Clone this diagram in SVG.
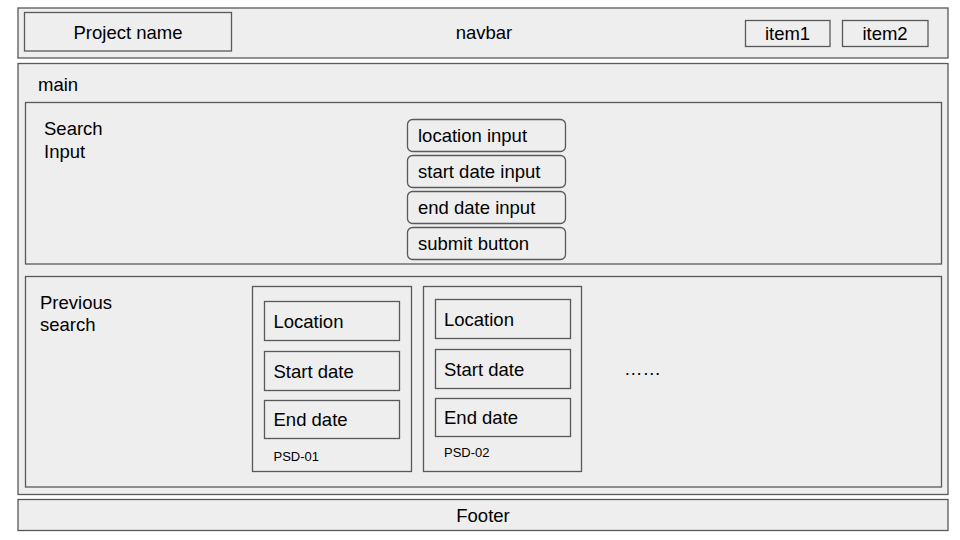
<svg xmlns="http://www.w3.org/2000/svg" width="960" height="540" viewBox="0 0 960 540">
<style>
.box{fill:#eeeeee;stroke:#595959;stroke-width:1.3}
.t{font-family:"Liberation Sans",Arial,sans-serif;font-size:18.5px;fill:#000}
.s{font-family:"Liberation Sans",Arial,sans-serif;font-size:13px;fill:#000}
.c{text-anchor:middle}
</style>
<rect width="960" height="540" fill="#ffffff"/>
<g id="navbar">
<rect class="box" x="18" y="8" width="930" height="50"/>
<text class="t c" x="484" y="39">navbar</text>
</g>
<g id="project-name">
<rect class="box" x="24.5" y="12.5" width="207" height="38.5"/>
<text class="t c" x="128" y="39">Project name</text>
</g>
<g id="item1">
<rect class="box" x="745.5" y="20.5" width="84.5" height="26"/>
<text class="t c" x="787.5" y="40">item1</text>
</g>
<g id="item2">
<rect class="box" x="842.5" y="20.5" width="85.5" height="26"/>
<text class="t c" x="885" y="40">item2</text>
</g>
<g id="main">
<rect class="box" x="18" y="63.5" width="930" height="431"/>
<text class="t" x="38" y="91">main</text>
</g>
<g id="search-input">
<rect class="box" x="25.5" y="102.5" width="916" height="161.5"/>
<text class="t" x="44" y="135">Search</text>
<text class="t" x="44" y="158">Input</text>
</g>
<g id="location-input">
<rect class="box" x="407.5" y="119.5" width="158" height="32" rx="5"/>
<text class="t" x="418" y="142">location input</text>
</g>
<g id="start-date-input">
<rect class="box" x="407.5" y="155.5" width="158" height="32" rx="5"/>
<text class="t" x="418" y="178">start date input</text>
</g>
<g id="end-date-input">
<rect class="box" x="407.5" y="191.5" width="158" height="32" rx="5"/>
<text class="t" x="418" y="214">end date input</text>
</g>
<g id="submit-button">
<rect class="box" x="407.5" y="227.5" width="158" height="32" rx="5"/>
<text class="t" x="418" y="250">submit button</text>
</g>
<g id="previous-search">
<rect class="box" x="25.5" y="276.5" width="916" height="210.5"/>
<text class="t" x="40" y="309">Previous</text>
<text class="t" x="40" y="331">search</text>
<text class="t" x="624" y="375">……</text>
</g>
<g id="psd-01">
<rect class="box" x="252.5" y="286.5" width="159" height="185"/>
<text class="s" x="273.5" y="461">PSD-01</text>
</g>
<g id="psd-01-location">
<rect class="box" x="264.5" y="301.5" width="135" height="39"/>
<text class="t" x="273.5" y="327.5">Location</text>
</g>
<g id="psd-01-start">
<rect class="box" x="264.5" y="351.5" width="135" height="39"/>
<text class="t" x="273.5" y="377.5">Start date</text>
</g>
<g id="psd-01-end">
<rect class="box" x="264.5" y="400.5" width="135" height="38"/>
<text class="t" x="273.5" y="426">End date</text>
</g>
<g id="psd-02">
<rect class="box" x="423.5" y="286.5" width="158" height="185"/>
<text class="s" x="444" y="457">PSD-02</text>
</g>
<g id="psd-02-location">
<rect class="box" x="435.5" y="299.5" width="135" height="39"/>
<text class="t" x="444" y="325.5">Location</text>
</g>
<g id="psd-02-start">
<rect class="box" x="435.5" y="349.5" width="135" height="39"/>
<text class="t" x="444" y="375.5">Start date</text>
</g>
<g id="psd-02-end">
<rect class="box" x="435.5" y="398.5" width="135" height="38"/>
<text class="t" x="444" y="424">End date</text>
</g>
<g id="footer">
<rect class="box" x="18" y="499.5" width="930" height="31"/>
<text class="t c" x="483" y="522">Footer</text>
</g>
<g id="connectors"></g>
</svg>
